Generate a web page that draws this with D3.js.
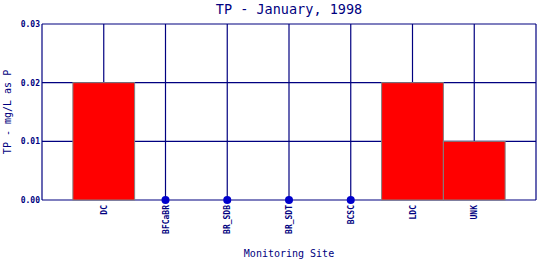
<html>
<head>
    <meta http-equiv="Content-Type" content="text/html; charset=utf-8">
    <title>TP - January, 1998</title>
    <style>
        body { margin: 0; background: #fff; }
        text { font-family: "DejaVu Sans Mono", monospace; fill: #000080; }
        .tick-label { font-size: 8px; font-weight: bold; }
    </style>
</head>
<body>
<div id="chart"></div>
<script src="https://d3js.org/d3.v7.min.js"></script>
<script type="text/javascript">
    var sites = ["DC", "BFCaBR", "BR_SDB", "BR_SDT", "BCSC", "LDC", "UNK"];
    var tpValues = [0.02, 0, 0, 0, 0, 0.02, 0.01];
    var yTicks = [0, 0.01, 0.02, 0.03];

    var width = 540, height = 260;
    var margin = {top: 24, right: 4, bottom: 60, left: 42};

    var svg = d3.select("#chart").append("svg")
        .attr("width", width)
        .attr("height", height);

    var x = d3.scalePoint()
        .domain(sites)
        .range([margin.left, width - margin.right])
        .padding(1);

    var y = d3.scaleLinear()
        .domain([0, 0.03])
        .range([height - margin.bottom, margin.top]);

    var step = x.step();
    var grid = svg.append("g").attr("stroke", "#000080").attr("stroke-width", 1.2);

    // horizontal grid
    grid.selectAll(".hgrid")
        .data(yTicks).enter()
        .append("line")
        .attr("x1", margin.left).attr("x2", width - margin.right)
        .attr("y1", function (d) { return y(d); })
        .attr("y2", function (d) { return y(d); });

    // vertical grid, one per site plus right edge
    grid.selectAll(".vgrid")
        .data(sites).enter()
        .append("line")
        .attr("x1", function (d) { return x(d); })
        .attr("x2", function (d) { return x(d); })
        .attr("y1", y(0)).attr("y2", y(0.03));

    grid.append("line")
        .attr("x1", margin.left).attr("x2", margin.left)
        .attr("y1", y(0)).attr("y2", y(0.03));
    grid.append("line")
        .attr("x1", width - margin.right).attr("x2", width - margin.right)
        .attr("y1", y(0)).attr("y2", y(0.03));

    var data = sites.map(function (s, i) { return {site: s, value: tpValues[i]}; });

    // bars
    svg.selectAll(".bar")
        .data(data.filter(function (d) { return d.value > 0; })).enter()
        .append("rect")
        .attr("class", "bar")
        .attr("x", function (d) { return x(d.site) - step / 2; })
        .attr("width", step)
        .attr("y", function (d) { return y(d.value); })
        .attr("height", function (d) { return y(0) - y(d.value); })
        .attr("fill", "#ff0000")
        .attr("stroke", "#808080")
        .attr("stroke-width", 1);

    // zero values as dots
    svg.selectAll(".dot")
        .data(data.filter(function (d) { return d.value === 0; })).enter()
        .append("circle")
        .attr("cx", function (d) { return x(d.site); })
        .attr("cy", function (d) { return y(d.value); })
        .attr("r", 4)
        .attr("fill", "#0000cc");

    // y tick labels
    svg.selectAll(".ylab")
        .data(yTicks).enter()
        .append("text")
        .attr("class", "tick-label")
        .attr("x", margin.left - 2)
        .attr("y", function (d) { return y(d) + 3; })
        .attr("text-anchor", "end")
        .text(function (d) { return d3.format(".2f")(d); });

    // x tick labels, rotated
    svg.selectAll(".xlab")
        .data(sites).enter()
        .append("text")
        .attr("class", "tick-label")
        .attr("transform", function (d) {
            return "translate(" + (x(d) + 3) + "," + (y(0) + 5) + ") rotate(-90)";
        })
        .attr("text-anchor", "end")
        .text(function (d) { return d; });

    var cx = (margin.left + width - margin.right) / 2;

    svg.append("text")
        .attr("x", cx).attr("y", 13.5)
        .attr("text-anchor", "middle")
        .style("font-size", "13.5px")
        .text("TP - January, 1998");

    svg.append("text")
        .attr("x", cx).attr("y", 257)
        .attr("text-anchor", "middle")
        .style("font-size", "10px")
        .text("Monitoring Site");

    svg.append("text")
        .attr("transform", "translate(11," + ((margin.top + height - margin.bottom) / 2) + ") rotate(-90)")
        .attr("text-anchor", "middle")
        .style("font-size", "10px")
        .text("TP - mg/L as P");
</script>
</body>
</html>
